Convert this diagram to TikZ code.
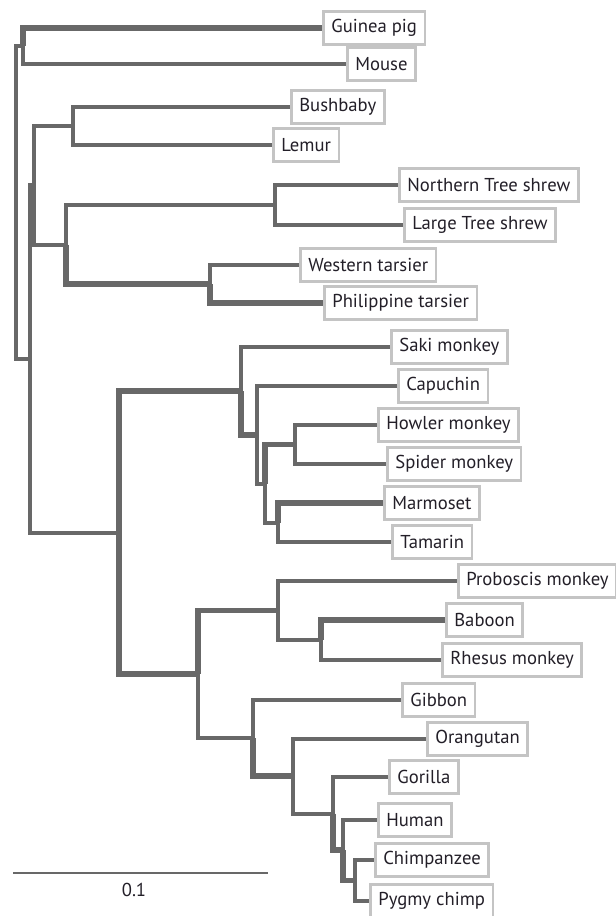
\documentclass[tikz,border=0pt]{standalone}
\usepackage{fontspec}
\setmainfont{PT Sans}
\definecolor{branchgray}{RGB}{104,104,104}
\definecolor{boxgray}{RGB}{196,196,196}
\definecolor{inkblack}{RGB}{35,31,40}
\newcommand{\taxon}[4]{
	\node [taxon] (#1) at (#2,#3) {#4};
	}

\begin{document}
\begin{tikzpicture}[
      x=0.75pt, y=-0.75pt, % one unit is one pixel of the figure
      branch/.style={draw=branchgray, line width=3pt},
      heavy/.style={branch, line width=4.2pt},
      taxon/.style={draw=boxgray, line width=2pt, fill=white, anchor=west,
        minimum height=25pt, inner xsep=6pt, text=inkblack,
        font=\fontsize{14}{16}\selectfont},
      scalebar/.style={draw=branchgray, line width=1.1pt},
      scaletext/.style={text=inkblack, font=\fontsize{14}{16}\selectfont}
    ]
    \useasboundingbox (0,0) rectangle (616,916);
    % Taxa, top to bottom
    \taxon{guineapig}{322}{28}{Guinea pig};
    \taxon{mouse}{346}{64}{Mouse};
    \taxon{bushbaby}{290}{107}{Bushbaby};
    \taxon{lemur}{272}{145}{Lemur};
    \taxon{ntshrew}{398}{185}{Northern Tree shrew};
    \taxon{ltshrew}{403}{225}{Large Tree shrew};
    \taxon{wtarsier}{299}{265}{Western tarsier};
    \taxon{ptarsier}{323}{303}{Philippine tarsier};
    \taxon{saki}{390}{347}{Saki monkey};
    \taxon{capuchin}{397}{386}{Capuchin};
    \taxon{howler}{377}{425}{Howler monkey};
    \taxon{spider}{386}{464}{Spider monkey};
    \taxon{marmoset}{383}{503}{Marmoset};
    \taxon{tamarin}{391}{542}{Tamarin};
    \taxon{proboscis}{457}{581}{Proboscis monkey};
    \taxon{baboon}{445}{620}{Baboon};
    \taxon{rhesus}{441}{660}{Rhesus monkey};
    \taxon{gibbon}{401}{700}{Gibbon};
    \taxon{orangutan}{426}{739}{Orangutan};
    \taxon{gorilla}{388}{777}{Gorilla};
    \taxon{human}{377}{820}{Human};
    \taxon{chimp}{374}{860}{Chimpanzee};
    \taxon{pygmy}{369}{901}{Pygmy chimp};
    % Internal nodes of the tree
    \coordinate (root) at (16,202);
    \coordinate (rodents) at (23,46);
    \coordinate (euarch) at (30,358.75);
    \coordinate (prosim) at (34,185);
    \coordinate (strep) at (73,126);
    \coordinate (shrewtars) at (66,244.5);
    \coordinate (shrews) at (275,205);
    \coordinate (tarsiers) at (210,284);
    \coordinate (anthro) at (119,532.5);
    \coordinate (newworld) at (241,391);
    \coordinate (nwa) at (257,434.75);
    \coordinate (nwb) at (265,483.5);
    \coordinate (atelids) at (295,444.5);
    \coordinate (callitr) at (278,522.5);
    \coordinate (oldworld) at (198,674);
    \coordinate (cercop) at (278,610.5);
    \coordinate (papio) at (321,640);
    \coordinate (apes) at (253,738);
    \coordinate (greatapes) at (293,776);
    \coordinate (african) at (333,813.5);
    \coordinate (homopan) at (343,850);
    \coordinate (pan) at (355,880.5);
    % Branches
    \draw [branch] (root) |- (rodents);
    \draw [branch] (root) |- (euarch);
    \draw [branch] (rodents) |- (mouse.west);
    \draw [branch] (euarch) |- (prosim);
    \draw [branch] (euarch) |- (anthro);
    \draw [branch] (prosim) |- (strep);
    \draw [branch] (prosim) |- (shrewtars);
    \draw [branch] (strep) |- (bushbaby.west);
    \draw [branch] (strep) |- (lemur.west);
    \draw [branch] (shrewtars) |- (shrews);
    \draw [branch] (shrews) |- (ntshrew.west);
    \draw [branch] (shrews) |- (ltshrew.west);
    \draw [branch] (tarsiers) |- (wtarsier.west);
    \draw [branch] (newworld) |- (saki.west);
    \draw [branch] (nwa) |- (capuchin.west);
    \draw [branch] (nwa) |- (nwb);
    \draw [branch] (nwb) |- (callitr);
    \draw [branch] (atelids) |- (howler.west);
    \draw [branch] (atelids) |- (spider.west);
    \draw [branch] (callitr) |- (tamarin.west);
    \draw [branch] (oldworld) |- (apes);
    \draw [branch] (cercop) |- (proboscis.west);
    \draw [branch] (cercop) |- (papio);
    \draw [branch] (papio) |- (rhesus.west);
    \draw [branch] (apes) |- (gibbon.west);
    \draw [branch] (greatapes) |- (orangutan.west);
    \draw [branch] (greatapes) |- (african);
    \draw [branch] (african) |- (gorilla.west);
    \draw [branch] (homopan) |- (human.west);
    \draw [branch] (pan) |- (chimp.west);
    \draw [branch] (pan) |- (pygmy.west);
    % Heavier branches
    \draw [heavy] (rodents) |- (guineapig.west);
    \draw [heavy] (shrewtars) |- (tarsiers);
    \draw [heavy] (tarsiers) |- (ptarsier.west);
    \draw [heavy] (anthro) |- (newworld);
    \draw [heavy] (anthro) |- (oldworld);
    \draw [heavy] (newworld) |- (nwa);
    \draw [heavy] (nwb) |- (atelids);
    \draw [heavy] (callitr) |- (marmoset.west);
    \draw [heavy] (oldworld) |- (cercop);
    \draw [heavy] (papio) |- (baboon.west);
    \draw [heavy] (apes) |- (greatapes);
    \draw [heavy] (african) |- (homopan);
    \draw [heavy] (homopan) |- (pan);
    % Scale bar
    \coordinate (barleft) at (13,873);
    \coordinate (barright) at (268,873);
    \draw [scalebar] (barleft) -- (barright);
    \node [scaletext] (barlabel) at (134,890) {0.1};
\end{tikzpicture}
\end{document}
